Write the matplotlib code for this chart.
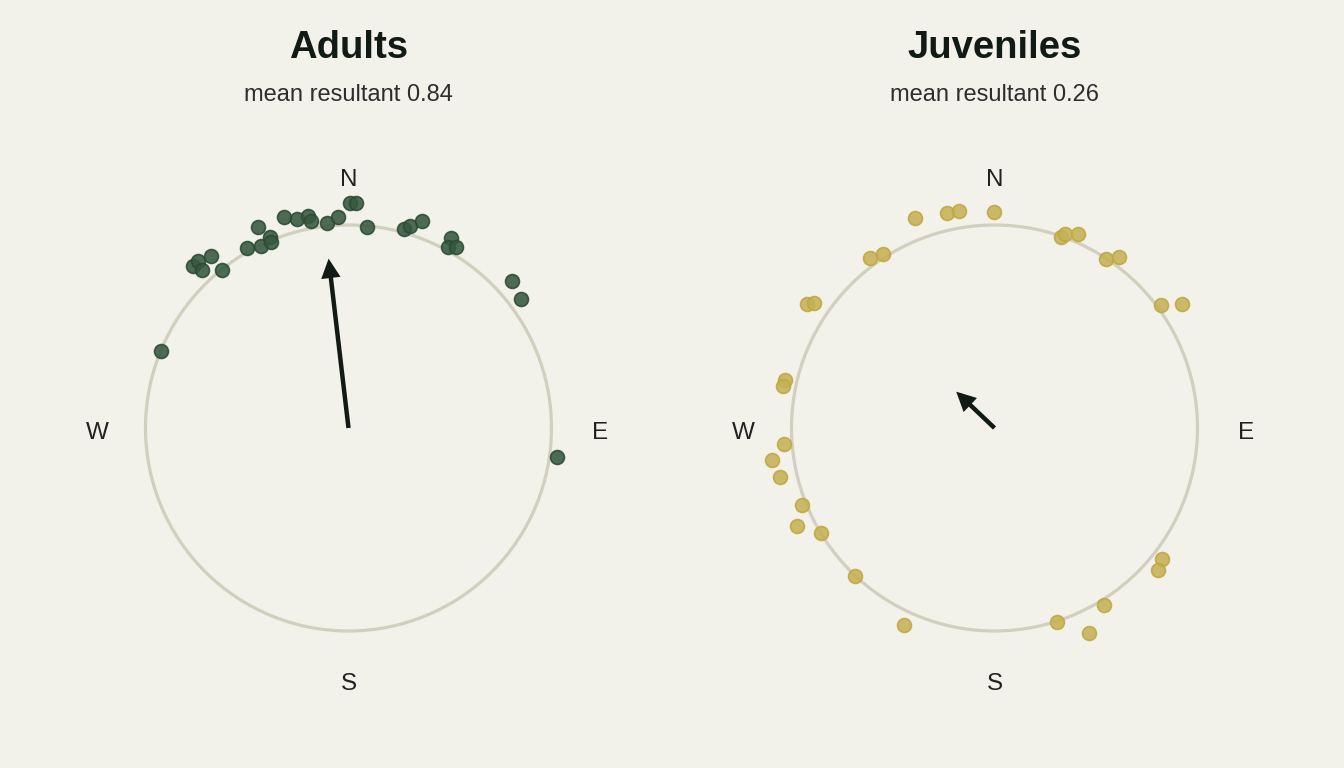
import numpy as np
import matplotlib
matplotlib.use("Agg")
import matplotlib.pyplot as plt
from matplotlib.patches import Circle

plt.rcParams['font.family'] = ['Liberation Sans', 'DejaVu Sans']

# ---- data (bearing in degrees clockwise from north, radial position relative to unit circle)
groups = ["Adults", "Juveniles"]

adult_bearing = [316.2, 318.1, 317.2, 321.4, 321.4, 330.5, 335.8, 334.2, 337.7, 337.4,
                 343.1, 346.1, 349.1, 349.7, 353.9, 357.1, 0.4, 1.9, 5.3, 15.7,
                 16.9, 19.6, 28.3, 28.8, 30.7, 48.1, 53.1, 292.3, 97.9]
adult_radius = [1.105, 1.107, 1.060, 1.085, 0.996, 1.017, 1.084, 0.995, 1.019, 0.994,
                1.085, 1.061, 1.065, 1.038, 1.017, 1.039, 1.107, 1.108, 0.996, 1.017,
                1.040, 1.084, 1.065, 1.015, 1.038, 1.084, 1.062, 0.998, 1.037]

juv_bearing = [303.5, 304.8, 323.9, 327.3, 339.2, 347.6, 350.8, 359.8, 19.1, 20.0,
               23.4, 33.3, 36.1, 53.7, 56.5, 282.9, 281.2, 265.6, 261.8, 257.1,
               248.2, 243.6, 238.8, 223.3, 204.6, 162.1, 155.3, 148.2, 128.0, 131.0]
juv_radius = [1.105, 1.082, 1.038, 1.017, 1.105, 1.083, 1.083, 1.063, 0.994, 1.017,
              1.041, 0.997, 1.041, 1.020, 1.108, 1.060, 1.061, 1.040, 1.106, 1.084,
              1.020, 1.086, 0.998, 1.000, 1.066, 1.003, 1.111, 1.024, 1.047, 1.069]

mean_bearing = [353.3, 313.5]
mean_resultant = [0.84, 0.26]

compass_labels = ["N", "E", "S", "W"]
compass_bearing = [0, 90, 180, 270]

# ---- style
BG = "#f2f1ea"
point_fill = ["#35593f", "#c6b156"]
point_edge = ["#2a4a34", "#c1a73e"]
ring_color = "#d1d0bf"
arrow_color = "#111a14"
title_color = "#111a14"
sub_color = "#2e2e2e"
label_color = "#222222"

W, H = 1344, 768
fig = plt.figure(figsize=(W / 100, H / 100), dpi=100, facecolor=BG)

radius_px = 203.0
half = 1.4
centers_px = [(348.5, 428.0), (994.5, 428.0)]
bearings = [adult_bearing, juv_bearing]
radii = [adult_radius, juv_radius]

for i, (cx, cy) in enumerate(centers_px):
    size = 2 * half * radius_px
    ax = fig.add_axes([(cx - size / 2) / W, (H - cy - size / 2) / H, size / W, size / H])
    ax.set_xlim(-half, half)
    ax.set_ylim(-half, half)
    ax.set_aspect('equal')
    ax.axis('off')
    ax.set_facecolor(BG)

    ax.add_patch(Circle((0, 0), 1.0, fill=False, edgecolor=ring_color, lw=2.3, zorder=1))

    b = np.deg2rad(np.array(bearings[i]))
    r = np.array(radii[i])
    ax.scatter(r * np.sin(b), r * np.cos(b), s=100, color=point_fill[i],
               edgecolors=point_edge[i], linewidths=1.2, alpha=0.88, zorder=3)

    mb = np.deg2rad(mean_bearing[i])
    R = mean_resultant[i]
    ax.annotate("", xy=(R * np.sin(mb), R * np.cos(mb)), xytext=(0, 0),
                arrowprops=dict(arrowstyle='-|>', color=arrow_color, lw=3.2,
                                mutation_scale=22, shrinkA=0, shrinkB=0,
                                joinstyle='miter', capstyle='butt'),
                zorder=4)

    for lab, lb in zip(compass_labels, compass_bearing):
        a = np.deg2rad(lb)
        rr = 1.237 if lab != "N" else 1.247
        ax.text(rr * np.sin(a), rr * np.cos(a) - 0.012, lab, ha='center', va='center_baseline',
                fontsize=17.5, color=label_color)

    fig.text(cx / W, 1 - 58 / H, groups[i], ha='center', va='baseline',
             fontsize=27.5, fontweight='bold', color=title_color)
    fig.text(cx / W, 1 - 101 / H, f"mean resultant {mean_resultant[i]:.2f}",
             ha='center', va='baseline', fontsize=17, color=sub_color)

fig.savefig("out.png", dpi=100, facecolor=BG)
